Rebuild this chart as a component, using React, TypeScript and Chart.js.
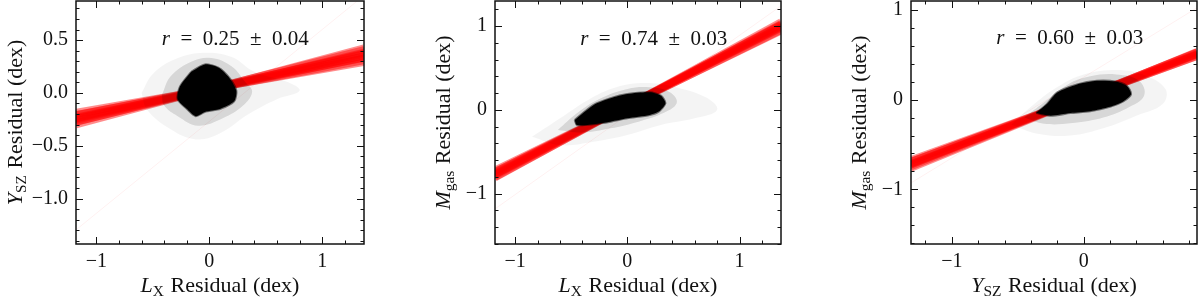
import React, { useEffect, useRef } from "react";
import { Chart, registerables } from "chart.js";

Chart.register(...registerables);

// ---------- Panel 1: Y_SZ residual vs L_X residual ----------
const p1XRange = [-1.18, 1.37];
const p1YRange = [-1.43, 0.87];
const p1XTicks = [-1, 0, 1];
const p1YTicks = [-1.0, -0.5, 0.0, 0.5];
const p1XMinor = 0.2;
const p1YMinor = 0.1;
const p1Slopes = [0.185, 0.2, 0.21, 0.22, 0.23, 0.235, 0.24, 0.25, 0.26, 0.27, 0.285];
const p1Intercepts = [0.035, 0.03, 0.04, 0.03, 0.035, 0.03, 0.04, 0.035, 0.03, 0.04, 0.035];
const p1Faint = [0.87, -0.27];
const p1Outer = [
  [-0.6, 0.0], [-0.5, 0.18], [-0.3, 0.32], [-0.05, 0.38], [0.2, 0.34], [0.4, 0.2],
  [0.7, 0.1], [0.8, 0.02], [0.6, -0.06], [0.35, -0.2], [0.1, -0.38], [-0.12, -0.44],
  [-0.35, -0.34], [-0.55, -0.16],
];
const p1Mid = [
  [-0.42, -0.02], [-0.34, 0.16], [-0.15, 0.3], [0.02, 0.33], [0.2, 0.25], [0.32, 0.1],
  [0.38, 0.01], [0.3, -0.12], [0.12, -0.24], [-0.1, -0.31], [-0.28, -0.22], [-0.4, -0.12],
];
const p1Core = [
  [-0.16, 0.2], [-0.04, 0.27], [0.08, 0.24], [0.18, 0.14], [0.24, 0.02], [0.22, -0.08],
  [0.1, -0.15], [-0.04, -0.18], [-0.12, -0.22], [-0.2, -0.15], [-0.28, -0.06], [-0.26, 0.06],
];
const p1Label = { x: 0.23, y: 0.52, r: "0.25", err: "0.04" };

// ---------- Panel 2: M_gas residual vs L_X residual ----------
const p2XRange = [-1.18, 1.37];
const p2YRange = [-1.6, 1.3];
const p2XTicks = [-1, 0, 1];
const p2YTicks = [-1, 0, 1];
const p2XMinor = 0.2;
const p2YMinor = 0.2;
const p2Slopes = [0.65, 0.66, 0.67, 0.68, 0.69, 0.695, 0.7, 0.71, 0.72, 0.73];
const p2Intercepts = [0.05, 0.045, 0.055, 0.05, 0.05, 0.045, 0.055, 0.05, 0.045, 0.05];
const p2Faint = [0.95, -0.06];
const p2Outer = [
  [-0.85, -0.32], [-0.6, -0.1], [-0.35, 0.12], [-0.1, 0.27], [0.15, 0.32], [0.4, 0.28],
  [0.7, 0.15], [0.8, 0.0], [0.6, -0.1], [0.3, -0.18], [0.0, -0.3], [-0.3, -0.38],
  [-0.6, -0.42],
];
const p2Mid = [
  [-0.62, -0.24], [-0.45, -0.04], [-0.25, 0.13], [0.0, 0.25], [0.2, 0.27], [0.38, 0.21],
  [0.44, 0.08], [0.3, -0.05], [0.1, -0.14], [-0.15, -0.22], [-0.4, -0.27],
];
const p2Core = [
  [-0.47, -0.12], [-0.3, 0.06], [-0.15, 0.14], [0.0, 0.19], [0.2, 0.21], [0.3, 0.17],
  [0.34, 0.08], [0.28, -0.02], [0.2, -0.06], [0.0, -0.1], [-0.15, -0.14], [-0.3, -0.17],
  [-0.45, -0.18],
];
const p2Label = { x: 0.235, y: 0.855, r: "0.74", err: "0.03" };

// ---------- Panel 3: M_gas residual vs Y_SZ residual ----------
const p3XRange = [-1.31, 0.86];
const p3YRange = [-1.61, 1.1];
const p3XTicks = [-1, 0];
const p3YTicks = [-1, 0, 1];
const p3XMinor = 0.2;
const p3YMinor = 0.2;
const p3Slopes = [0.53, 0.54, 0.55, 0.56, 0.565, 0.57, 0.58, 0.59, 0.6];
const p3Intercepts = [0.025, 0.02, 0.03, 0.02, 0.025, 0.02, 0.03, 0.025, 0.02];
const p3Faint = [0.9, 0.25];
const p3Outer = [
  [-0.55, -0.28], [-0.4, -0.08], [-0.2, 0.14], [0.0, 0.28], [0.25, 0.33], [0.45, 0.28],
  [0.62, 0.12], [0.6, -0.05], [0.4, -0.18], [0.15, -0.32], [-0.1, -0.4], [-0.35, -0.38],
];
const p3Mid = [
  [-0.45, -0.2], [-0.3, -0.03], [-0.12, 0.17], [0.05, 0.26], [0.25, 0.28], [0.42, 0.21],
  [0.46, 0.05], [0.35, -0.08], [0.15, -0.2], [-0.08, -0.26], [-0.3, -0.27],
];
const p3Core = [
  [-0.36, -0.15], [-0.28, -0.05], [-0.2, 0.08], [-0.05, 0.17], [0.1, 0.21], [0.25, 0.2],
  [0.33, 0.15], [0.36, 0.06], [0.3, -0.02], [0.2, -0.08], [0.05, -0.13], [-0.1, -0.15],
  [-0.25, -0.18],
];
const p3Label = { x: -0.105, y: 0.7, r: "0.60", err: "0.03" };

type Seg = { t: string; it?: boolean; sub?: boolean };
const LX_TITLE: Seg[] = [{ t: "L", it: true }, { t: "X", sub: true }, { t: " Residual (dex)" }];
const YSZ_TITLE: Seg[] = [{ t: "Y", it: true }, { t: "SZ", sub: true }, { t: " Residual (dex)" }];
const MGAS_TITLE: Seg[] = [{ t: "M", it: true }, { t: "gas", sub: true }, { t: " Residual (dex)" }];

const FONT = "'Liberation Serif', 'DejaVu Serif', serif";
const FS_TICK = 20;
const FS_TITLE = 22;
const FS_NOTE = 21;

const fmtMinus = (v: number, dec: number) => {
  const s = Math.abs(v).toFixed(dec);
  return v < 0 ? "\u2212" + s : s;
};

function segFont(s: Seg, fs: number) {
  const size = s.sub ? fs * 0.7 : fs;
  return `${s.it ? "italic " : ""}${size}px ${FONT}`;
}

function drawRich(ctx: CanvasRenderingContext2D, segs: Seg[], cx: number, cy: number, fs: number) {
  ctx.textBaseline = "alphabetic";
  ctx.textAlign = "left";
  let w = 0;
  for (const s of segs) {
    ctx.font = segFont(s, fs);
    w += ctx.measureText(s.t).width + (s.sub ? 1 : 0);
  }
  let x = cx - w / 2;
  const base = cy + fs * 0.33;
  for (const s of segs) {
    ctx.font = segFont(s, fs);
    ctx.fillText(s.t, x, s.sub ? base + fs * 0.18 : base);
    x += ctx.measureText(s.t).width + (s.sub ? 1 : 0);
  }
}

function minorValues(min: number, max: number, step: number) {
  const out: number[] = [];
  const start = Math.ceil(min / step - 1e-9);
  const end = Math.floor(max / step + 1e-9);
  for (let i = start; i <= end; i++) out.push(+(i * step).toFixed(6));
  return out;
}

type PanelCfg = {
  left: number;
  width: number;
  plotLeft: number;
  plotRight: number;
  xRange: number[];
  yRange: number[];
  xTicks: number[];
  yTicks: number[];
  yDec: number;
  xMinor: number;
  yMinor: number;
  slopes: number[];
  intercepts: number[];
  faint: number[];
  outer: number[][];
  mid: number[][];
  core: number[][];
  label: { x: number; y: number; r: string; err: string };
  xTitle: Seg[];
  yTitle: Seg[];
  yTitleOffset: number;
};

const PLOT_TOP = 1;
const PLOT_BOTTOM = 244;
const H = 297;

const panels: PanelCfg[] = [
  {
    left: 0, width: 372, plotLeft: 76, plotRight: 364,
    xRange: p1XRange, yRange: p1YRange, xTicks: p1XTicks, yTicks: p1YTicks, yDec: 1,
    xMinor: p1XMinor, yMinor: p1YMinor, slopes: p1Slopes, intercepts: p1Intercepts,
    faint: p1Faint, outer: p1Outer, mid: p1Mid, core: p1Core, label: p1Label,
    xTitle: LX_TITLE, yTitle: YSZ_TITLE, yTitleOffset: 61,
  },
  {
    left: 400, width: 388, plotLeft: 495, plotRight: 781,
    xRange: p2XRange, yRange: p2YRange, xTicks: p2XTicks, yTicks: p2YTicks, yDec: 0,
    xMinor: p2XMinor, yMinor: p2YMinor, slopes: p2Slopes, intercepts: p2Intercepts,
    faint: p2Faint, outer: p2Outer, mid: p2Mid, core: p2Core, label: p2Label,
    xTitle: LX_TITLE, yTitle: MGAS_TITLE, yTitleOffset: 52,
  },
  {
    left: 800, width: 400, plotLeft: 911, plotRight: 1197,
    xRange: p3XRange, yRange: p3YRange, xTicks: p3XTicks, yTicks: p3YTicks, yDec: 0,
    xMinor: p3XMinor, yMinor: p3YMinor, slopes: p3Slopes, intercepts: p3Intercepts,
    faint: p3Faint, outer: p3Outer, mid: p3Mid, core: p3Core, label: p3Label,
    xTitle: YSZ_TITLE, yTitle: MGAS_TITLE, yTitleOffset: 52,
  },
];

function Panel({ cfg }: { cfg: PanelCfg }) {
  const ref = useRef<HTMLCanvasElement | null>(null);
  useEffect(() => {
    const canvas = ref.current;
    if (!canvas) return;
    const [x0, x1] = cfg.xRange;
    const poly = (pts: number[][]) => pts.concat([pts[0]]).map(([x, y]) => ({ x, y }));
    const datasets: any[] = [
      { type: "line", data: poly(cfg.outer), fill: "shape", backgroundColor: "rgba(0,0,0,0.045)", borderWidth: 0, pointRadius: 0, tension: 0.4 },
      { type: "line", data: poly(cfg.mid), fill: "shape", backgroundColor: "rgba(0,0,0,0.12)", borderWidth: 0, pointRadius: 0, tension: 0.4 },
      { type: "line", data: poly(cfg.core), fill: "shape", backgroundColor: "rgba(0,0,0,1)", borderColor: "rgba(0,0,0,0.5)", borderWidth: 2, pointRadius: 0, tension: 0.25 },
      {
        type: "line",
        data: [{ x: x0, y: cfg.faint[0] * x0 + cfg.faint[1] }, { x: x1, y: cfg.faint[0] * x1 + cfg.faint[1] }],
        borderColor: "rgba(255,0,0,0.06)", borderWidth: 1, pointRadius: 0, fill: false,
      },
    ];
    cfg.slopes.forEach((m, i) => {
      const b = cfg.intercepts[i];
      datasets.push({
        type: "line",
        data: [{ x: x0, y: m * x0 + b }, { x: x1, y: m * x1 + b }],
        borderColor: "rgba(255,0,0,0.45)", borderWidth: 7, pointRadius: 0, fill: false,
      });
    });

    const framePlugin = {
      id: "frame",
      afterDraw(chart: any) {
        const ctx = chart.ctx as CanvasRenderingContext2D;
        const { left, right, top, bottom } = chart.chartArea;
        const xs = chart.scales.x;
        const ys = chart.scales.y;
        ctx.save();
        ctx.strokeStyle = "#111";
        ctx.lineWidth = 1;
        const tick = (vals: number[], len: number) => {
          for (const v of vals) {
            const px = Math.round(xs.getPixelForValue(v)) + 0.5;
            ctx.beginPath();
            ctx.moveTo(px, bottom); ctx.lineTo(px, bottom - len);
            ctx.moveTo(px, top); ctx.lineTo(px, top + len);
            ctx.stroke();
          }
        };
        const tickY = (vals: number[], len: number) => {
          for (const v of vals) {
            const py = Math.round(ys.getPixelForValue(v)) + 0.5;
            ctx.beginPath();
            ctx.moveTo(left, py); ctx.lineTo(left + len, py);
            ctx.moveTo(right, py); ctx.lineTo(right - len, py);
            ctx.stroke();
          }
        };
        tick(minorValues(xs.min, xs.max, cfg.xMinor), 3.5);
        tick(cfg.xTicks, 7);
        tickY(minorValues(ys.min, ys.max, cfg.yMinor), 3.5);
        tickY(cfg.yTicks, 7);
        ctx.lineWidth = 1.5;
        ctx.strokeRect(left, top, right - left, bottom - top);
        ctx.fillStyle = "#111";
        // annotation
        const lx = xs.getPixelForValue(cfg.label.x);
        const ly = ys.getPixelForValue(cfg.label.y);
        drawRich(
          ctx,
          [{ t: "r", it: true }, { t: `\u2002=\u2002${cfg.label.r}\u2002\u00b1\u2002${cfg.label.err}` }],
          lx, ly, FS_NOTE,
        );
        // axis titles
        drawRich(ctx, cfg.xTitle, (left + right) / 2, 285, FS_TITLE);
        ctx.save();
        ctx.translate(left - cfg.yTitleOffset, (top + bottom) / 2);
        ctx.rotate(-Math.PI / 2);
        drawRich(ctx, cfg.yTitle, 0, 0, FS_TITLE);
        ctx.restore();
        ctx.restore();
      },
    };

    const plotLeftLocal = cfg.plotLeft - cfg.left;
    const plotRightLocal = cfg.plotRight - cfg.left;
    const chart = new Chart(canvas, {
      type: "scatter",
      data: { datasets },
      plugins: [framePlugin],
      options: {
        animation: false,
        responsive: false,
        maintainAspectRatio: false,
        events: [],
        layout: { padding: { left: 0, right: cfg.width - plotRightLocal, top: PLOT_TOP, bottom: 0 } },
        plugins: { legend: { display: false }, tooltip: { enabled: false } },
        scales: {
          x: {
            type: "linear",
            min: cfg.xRange[0],
            max: cfg.xRange[1],
            grid: { display: false, drawTicks: false },
            border: { display: false },
            afterBuildTicks: (s: any) => { s.ticks = cfg.xTicks.map((v) => ({ value: v })); },
            afterFit: (s: any) => {
              s.height = H - PLOT_BOTTOM;
              s.paddingLeft = 0; s.paddingRight = 0; s.paddingTop = 0; s.paddingBottom = 0;
            },
            ticks: {
              padding: 6,
              color: "#111",
              font: { family: FONT, size: FS_TICK },
              maxRotation: 0,
              autoSkip: false,
              callback: (v: any) => fmtMinus(Number(v), 0),
            },
          },
          y: {
            type: "linear",
            min: cfg.yRange[0],
            max: cfg.yRange[1],
            grid: { display: false, drawTicks: false },
            border: { display: false },
            afterBuildTicks: (s: any) => { s.ticks = cfg.yTicks.map((v) => ({ value: v })); },
            afterFit: (s: any) => {
              s.width = plotLeftLocal;
              s.paddingLeft = 0; s.paddingRight = 0; s.paddingTop = 0; s.paddingBottom = 0;
            },
            ticks: {
              padding: 8,
              color: "#111",
              font: { family: FONT, size: FS_TICK },
              autoSkip: false,
              callback: (v: any) => fmtMinus(Number(v), cfg.yDec),
            },
          },
        },
      } as any,
    });
    return () => chart.destroy();
  }, [cfg]);
  return (
    <canvas
      ref={ref}
      width={cfg.width}
      height={H}
      style={{ position: "absolute", left: cfg.left, top: 0, width: cfg.width, height: H }}
    />
  );
}

export default function App() {
  return (
    <div style={{ position: "absolute", left: 0, top: 0, width: 1200, height: H, background: "#fff", overflow: "hidden" }}>
      {panels.map((p, i) => (
        <Panel key={i} cfg={p} />
      ))}
    </div>
  );
}
